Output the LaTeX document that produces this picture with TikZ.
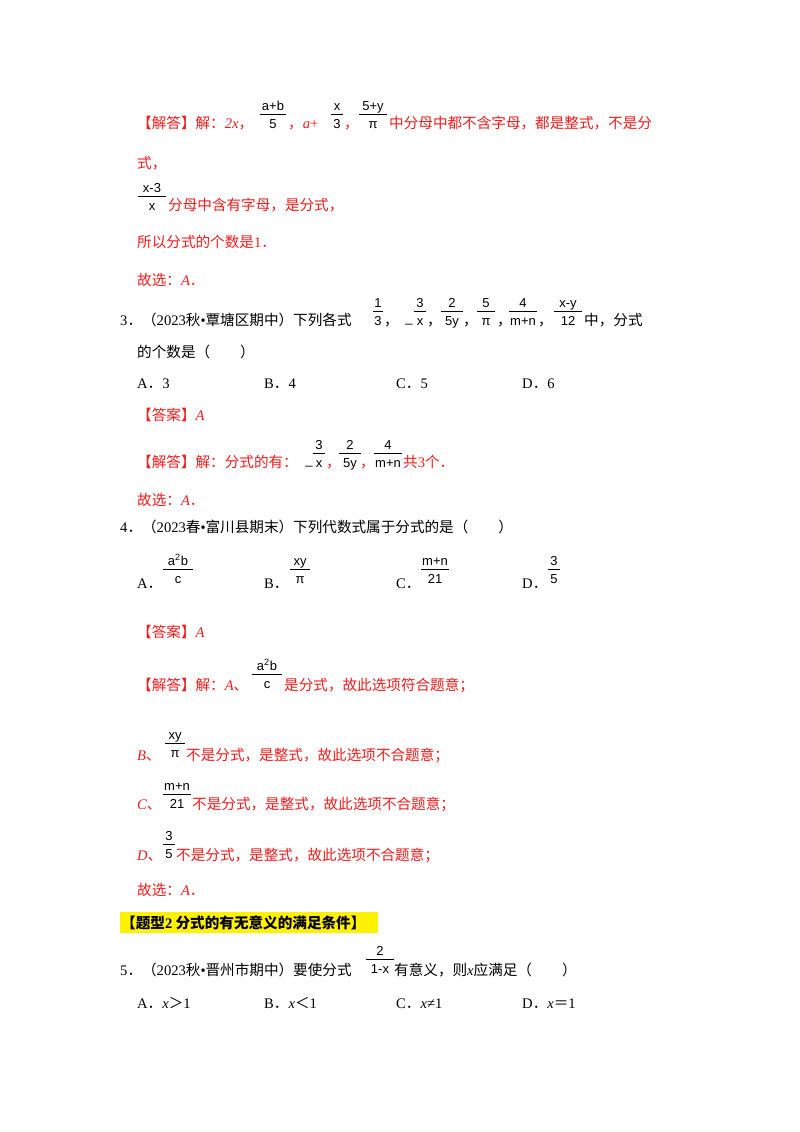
\documentclass[tikz,border=0pt]{standalone}
\usepackage{fontspec}
\setmainfont{Liberation Serif}
\newfontfamily\cjk{Noto Sans CJK SC}
\newfontfamily\fsans{Liberation Sans}
\newcommand\Lt[1]{{\rmfamily #1}}
\newcommand\Li[1]{{\rmfamily\itshape #1}}
\newcommand\mypi{{\fsans π}}
\definecolor{ans}{HTML}{F21C1C}
\begin{document}
\begin{tikzpicture}[x=1pt,y=-1pt,
  txt/.style={anchor=base west,inner sep=0,font=\cjk\fontsize{14.6}{18}\selectfont},
  rtxt/.style={txt,text=ans},
  ff/.style={anchor=base,inner sep=0,font=\fsans\fontsize{13}{14}\selectfont}]
\newcommand\fr[5]{%
  \node[ff] at (#1,#2) {#4};
  \node[ff] at (#1,#2-18) {#3};
  \draw[line width=0.9pt] (#1-#5/2,#2-14) -- ++(#5,0);}
\useasboundingbox (0,0) rectangle (800,1132);
\fill[white] (0,0) rectangle (800,1132);
% block 1
\node[rtxt] (l1) at (137,128) {【解答】解：\Li{2x}，};
\fr{273}{128}{a+b}{5}{26}
\node[rtxt] at (288,128) {，\Li{a}\Lt{+}};
\fr{337}{128}{x}{3}{12}
\node[rtxt] at (344,128) {，};
\fr{373}{128}{5+y}{\mypi}{28}
\node[rtxt] at (389,128) {中分母中都不含字母，都是整式，不是分};
\node[rtxt] at (137,168) {式，};
\fr{152}{210}{x-3}{x}{28}
\node[rtxt] at (168,210) {分母中含有字母，是分式，};
\node[rtxt] at (137,247) {所以分式的个数是\Lt{1}．};
\node[rtxt] at (137,285) {故选：\Li{A}．};
% Q3
\node[txt] (q3) at (120,325) {\Lt{3}．（\Lt{2023}秋\Lt{•}覃塘区期中）下列各式};
\fr{378}{325}{1}{3}{10}
\node[txt] at (384,325) {，};
\node[ff] at (409,322) {\_};
\fr{420}{325}{3}{x}{12}
\node[txt] at (427,325) {，};
\fr{452}{325}{2}{5y}{22}
\node[txt] at (463,325) {，};
\fr{486}{325}{5}{\mypi}{18}
\node[txt] at (497,325) {，};
\fr{523}{325}{4}{m+n}{28}
\node[txt] at (538,325) {，};
\fr{568}{325}{x-y}{12}{28}
\node[txt] at (584,325) {中，分式};
\node[txt] at (137,357) {的个数是（\hspace{30pt}）};
\node[txt] at (137,388) {\Lt{A}．\Lt{3}};
\node[txt] at (264,388) {\Lt{B}．\Lt{4}};
\node[txt] at (396,388) {\Lt{C}．\Lt{5}};
\node[txt] at (522,388) {\Lt{D}．\Lt{6}};
\node[rtxt] at (137,420) {【答案】\Li{A}};
\node[rtxt] at (137,467) {【解答】解：分式的有：};
\node[ff] at (309,464) {\_};
\fr{319}{467}{3}{x}{12}
\node[rtxt] at (326,467) {，};
\fr{350}{467}{2}{5y}{22}
\node[rtxt] at (360,467) {，};
\fr{388}{467}{4}{m+n}{28}
\node[rtxt] at (403,467) {共\Lt{3}个．};
\node[rtxt] at (137,505) {故选：\Li{A}．};
% Q4
\node[txt] (q4) at (120,532) {\Lt{4}．（\Lt{2023}春\Lt{•}富川县期末）下列代数式属于分式的是（\hspace{30pt}）};
\node[txt] at (137,588) {\Lt{A}．};
\fr{178}{583}{a\textsuperscript{2}b}{c}{30}
\node[txt] at (264,588) {\Lt{B}．};
\fr{300}{583}{xy}{\mypi}{20}
\node[txt] at (396,588) {\Lt{C}．};
\fr{435}{583}{m+n}{21}{28}
\node[txt] at (522,588) {\Lt{D}．};
\fr{554}{583}{3}{5}{12}
\node[rtxt] at (137,637) {【答案】\Li{A}};
\node[rtxt] at (137,690) {【解答】解：\Li{A}、};
\fr{267}{688}{a\textsuperscript{2}b}{c}{30}
\node[rtxt] at (284,690) {是分式，故此选项符合题意；};
\node[rtxt] at (137,760) {\Li{B}、};
\fr{175}{757}{xy}{\mypi}{20}
\node[rtxt] at (186,760) {不是分式，是整式，故此选项不合题意；};
\node[rtxt] at (137,809) {\Li{C}、};
\fr{177}{808}{m+n}{21}{28}
\node[rtxt] at (192,809) {不是分式，是整式，故此选项不合题意；};
\node[rtxt] at (137,860) {\Li{D}、};
\fr{169}{858}{3}{5}{12}
\node[rtxt] at (176,860) {不是分式，是整式，故此选项不合题意；};
\node[rtxt] at (137,895) {故选：\Li{A}．};
% heading
\fill[yellow] (120,912) rectangle (378,933);
\node[txt,font=\cjk\bfseries\fontsize{14.6}{18}\selectfont] (h) at (121,928) {【题型\Lt{\bfseries 2} 分式的有无意义的满足条件】};
% Q5
\node[txt] (q5) at (120,975) {\Lt{5}．（\Lt{2023}秋\Lt{•}晋州市期中）要使分式};
\fr{380}{973}{2}{1-x}{28}
\node[txt] at (394,975) {有意义，则\Li{x}应满足（\hspace{30pt}）};
\node[txt] at (137,1008) {\Lt{A}．\Li{x}＞\Lt{1}};
\node[txt] at (264,1008) {\Lt{B}．\Li{x}＜\Lt{1}};
\node[txt] at (396,1008) {\Lt{C}．\Li{x}\Lt{≠1}};
\node[txt] at (522,1008) {\Lt{D}．\Li{x}＝\Lt{1}};
\end{tikzpicture}
\end{document}
